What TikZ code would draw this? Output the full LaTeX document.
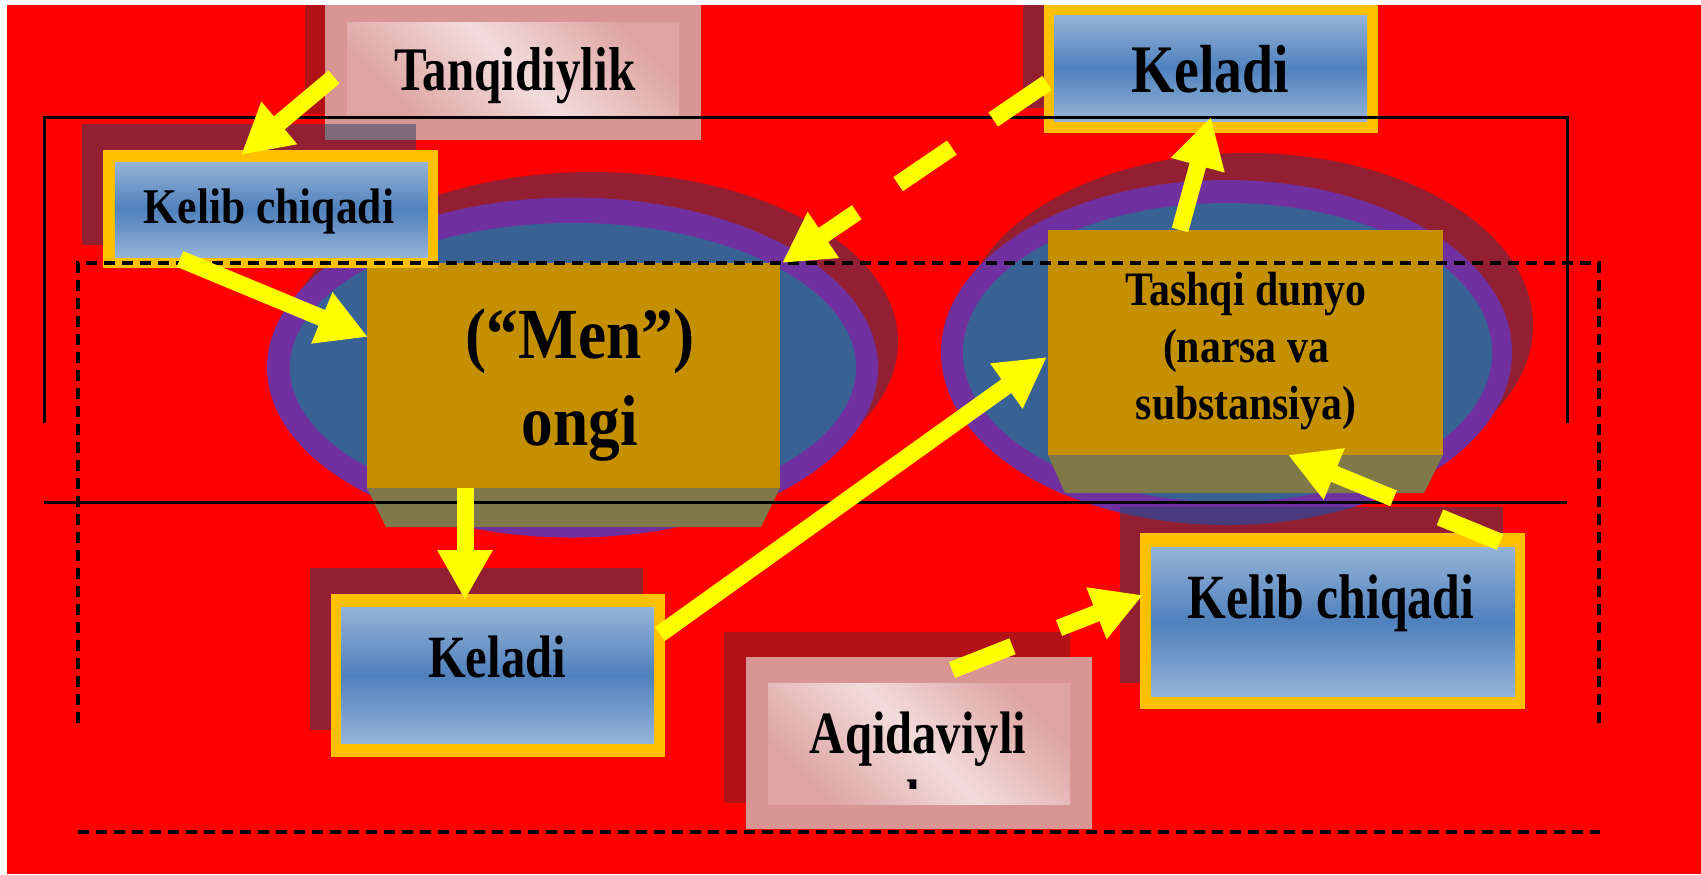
\documentclass[tikz,border=0pt]{standalone}
\usepackage{fontspec}
\setmainfont{Liberation Serif}
\usepackage{graphicx}
\usetikzlibrary{arrows.meta}
\definecolor{bgred}{HTML}{FF0000}
\definecolor{shd}{HTML}{922032}
\definecolor{shdb}{HTML}{B01216}
\definecolor{purp}{HTML}{7030A0}
\definecolor{elblue}{HTML}{386294}
\definecolor{gold}{HTML}{C49000}
\definecolor{olive}{HTML}{7F7848}
\definecolor{orng}{HTML}{FFC000}
\definecolor{lblue}{HTML}{95B3D7}
\definecolor{mblue}{HTML}{4F81BD}
\definecolor{pinkc}{HTML}{D99594}
\definecolor{pinkd}{HTML}{DEA4A3}
\definecolor{lpink}{HTML}{F2DCDB}
\definecolor{ylw}{HTML}{FFFF00}
\definecolor{ovl}{HTML}{7F6A7A}
\definecolor{ovlb}{HTML}{4A3B7F}
\newcommand{\sq}[2]{\scalebox{#1}[1]{#2}}
\newcommand{\fs}[2]{\bfseries\fontsize{#1}{#2}\selectfont}
\begin{document}
\begin{tikzpicture}[x=0.5pt,y=-0.5pt,
  lbl/.style={inner sep=0pt, anchor=base, text=black},
  fatarrow/.style={draw=ylw, line width=8.5pt, -{Triangle[width=26pt,length=25pt]}},
  dasharrow/.style={fatarrow, dash pattern=on 32.5pt off 25pt},
  solidline/.style={draw=black, line width=1.5pt, line join=miter},
  dashline/.style={draw=black, line width=1.6pt, dash pattern=on 5.5pt off 3.5pt},
  blueshade/.style={top color=lblue, bottom color=lblue, middle color=mblue},
  pinkshade/.style={top color=pinkd, bottom color=pinkd, middle color=lpink, shading angle=-45}]
\useasboundingbox (0,0) rectangle (1701,874);
\fill[white] (0,0) rectangle (1701,874);
\fill[bgred] (7,5) rectangle (1701,874);
% left ellipse group
\fill[shd] (592.5,342) ellipse [x radius=305.5, y radius=170];
\fill[purp] (572.5,367.5) ellipse [x radius=305.5, y radius=170];
\fill[elblue] (573,367.5) ellipse [x radius=283, y radius=144.5];
% right ellipse group
\fill[shd] (1247.5,325.5) ellipse [x radius=285.5, y radius=172.5];
\fill[purp] (1226.5,352.5) ellipse [x radius=285.5, y radius=172.5];
\fill[elblue] (1227.5,352.5) ellipse [x radius=264.5, y radius=149.5];
% gold boxes
\fill[olive] (367,488) -- (780,488) -- (761,527) -- (386,527) -- cycle;
\fill[gold] (367,263) rectangle (780,488);
\fill[olive] (1048,455) -- (1443,455) -- (1424,493) -- (1065,493) -- cycle;
\fill[gold] (1048,230) rectangle (1443,455);
% box shadows
\fill[shdb] (305,5) rectangle (681,114);
\fill[shd] (82,124) rectangle (416,245);
\fill[shd] (1023,5) rectangle (1357,108);
\fill[shd] (310,568) rectangle (643,730);
\fill[shd] (1120,507) rectangle (1503,683);
\begin{scope}
\clip (1120,507) rectangle (1503,683);
\fill[ovlb] (1226.5,352.5) ellipse [x radius=285.5, y radius=172.5];
\end{scope}
\fill[shdb] (724,632) rectangle (1070,803);
% boxes
\fill[pinkc] (325,5) rectangle (701,140);
\shade[pinkshade] (347,22) rectangle (679,115);
\fill[ovl] (325,124) rectangle (416,140);
\fill[orng] (103,150) rectangle (438,268);
\shade[blueshade] (115,162) rectangle (428,257);
\fill[orng] (1044,0) rectangle (1378,133);
\shade[blueshade] (1054,15) rectangle (1367,121);
\fill[orng] (331,594) rectangle (665,757);
\shade[blueshade] (341,607) rectangle (654,743);
\fill[orng] (1140,533) rectangle (1525,709);
\shade[blueshade] (1151,547) rectangle (1515,696);
\fill[pinkc] (746,657) rectangle (1092,829);
\shade[pinkshade] (768,683) rectangle (1070,804);
% texts
\node[lbl, font=\fs{31}{37}] (tanq) at (515,90) {\sq{0.79}{Tanqidiylik}};
\node[lbl, font=\fs{25}{30}] (kelib1) at (269,223) {\sq{0.87}{Kelib chiqadi}};
\node[lbl, font=\fs{34}{40}] (keladi1) at (1210,92) {\sq{0.82}{Keladi}};
\node[lbl, font=\fs{36}{43.5}] (men) at (580,358) {\sq{0.88}{\begin{tabular}[t]{@{}c@{}}(“Men”)\\ongi\end{tabular}}};
\node[lbl, font=\fs{24}{28.5}] (tashqi) at (1246,305) {\sq{0.87}{\begin{tabular}[t]{@{}c@{}}Tashqi dunyo\\(narsa va\\substansiya)\end{tabular}}};
\node[lbl, font=\fs{30}{36}] (keladi2) at (497,677) {\sq{0.81}{Keladi}};
\node[lbl, font=\fs{31.5}{38}] (kelib2) at (1331,618) {\sq{0.79}{Kelib chiqadi}};
\node[lbl, font=\fs{30}{36}] (aqida) at (918,753) {\sq{0.81}{Aqidaviyli}};
\begin{scope}
\clip (895,772) rectangle (945,788);
\node[lbl, font=\fs{30}{36}] (aqidak) at (920,821.5) {\sq{0.81}{k}};
\end{scope}
% frame lines
\draw[solidline] (44,423) -- (44,117) -- (1567,117) -- (1567,423);
\draw[solidline] (44,502) -- (1567,502);
\draw[dashline] (78,723) -- (78,263) -- (1599,263) -- (1599,723);
\draw[dashline] (78,832) -- (1600,832);
% arrow end points
\coordinate (a1s) at (334,77);   \coordinate (a1e) at (241,155);
\coordinate (a2s) at (180,259);  \coordinate (a2e) at (368,337);
\coordinate (a3s) at (465,488);  \coordinate (a3e) at (465,600);
\coordinate (a4s) at (660,634);  \coordinate (a4e) at (1047,357);
\coordinate (a5s) at (1180,230); \coordinate (a5e) at (1211,117);
\coordinate (a6s) at (1047,83);  \coordinate (a6e) at (782,263);
\coordinate (a7s) at (1500,542); \coordinate (a7e) at (1288,455);
\coordinate (a8s) at (952,670);  \coordinate (a8e) at (1143,595);
\draw[fatarrow] (a1s) -- (a1e);
\draw[fatarrow] (a2s) -- (a2e);
\draw[fatarrow] (a3s) -- (a3e);
\draw[fatarrow] (a4s) -- (a4e);
\draw[fatarrow] (a5s) -- (a5e);
\draw[dasharrow] (a6s) -- (a6e);
\draw[dasharrow] (a7s) -- (a7e);
\draw[dasharrow] (a8s) -- (a8e);
% white margins
\fill[white] (0,0) rectangle (1701,5);
\fill[white] (0,0) rectangle (7,874);
\end{tikzpicture}
\end{document}
